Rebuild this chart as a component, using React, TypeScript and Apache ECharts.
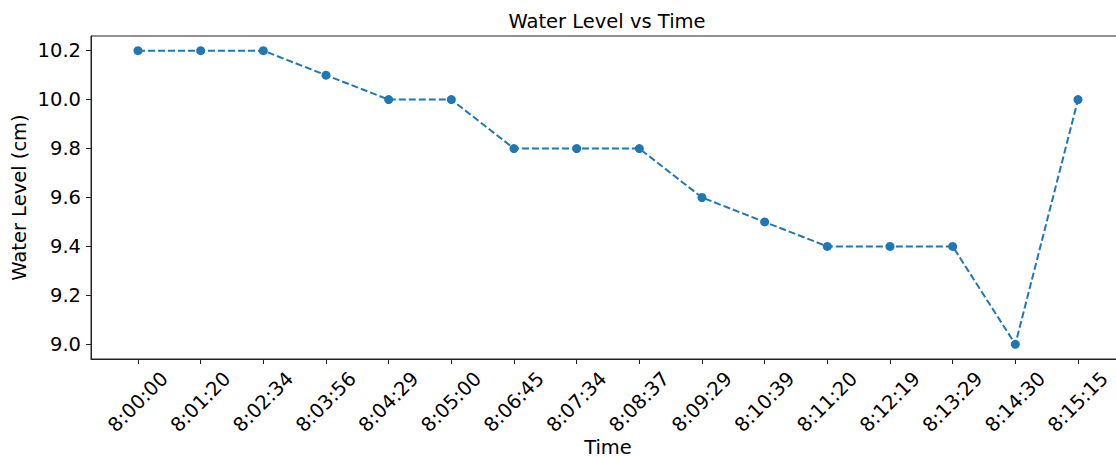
import React, { useEffect, useRef } from "react";
import * as echarts from "echarts";

const timeLabels = [
  "8:00:00", "8:01:20", "8:02:34", "8:03:56", "8:04:29", "8:05:00", "8:06:45", "8:07:34",
  "8:08:37", "8:09:29", "8:10:39", "8:11:20", "8:12:19", "8:13:29", "8:14:30", "8:15:15",
];
const waterLevels = [10.2, 10.2, 10.2, 10.1, 10.0, 10.0, 9.8, 9.8, 9.8, 9.6, 9.5, 9.4, 9.4, 9.4, 9.0, 10.0];
const yTicks = [9.0, 9.2, 9.4, 9.6, 9.8, 10.0, 10.2];

const FONT = "DejaVu Sans";
const BLUE = "#1f77b4";

export default function App() {
  const ref = useRef<HTMLDivElement>(null);
  useEffect(() => {
    if (!ref.current) return;
    const chart = echarts.init(ref.current, null, { renderer: "svg" });
    const n = waterLevels.length;
    const xPad = (n - 1) * 0.05;
    const yMinData = Math.min(...waterLevels);
    const yMaxData = Math.max(...waterLevels);
    const yPad = (yMaxData - yMinData) * 0.05;
    const xIdx = timeLabels.map((_, i) => i);
    chart.setOption({
      animation: false,
      textStyle: { fontFamily: FONT, color: "#000" },
      graphic: [
        {
          type: "text",
          x: 607,
          y: 21,
          style: {
            text: "Water Level vs Time",
            fontFamily: FONT,
            fontSize: 19.5,
            fill: "#000",
            textAlign: "center",
            textVerticalAlign: "middle",
          },
        },
      ],
      grid: {
        left: 91,
        top: 36,
        width: 1034,
        height: 323,
        outerBoundsMode: "none",
        containLabel: false,
        show: true,
        borderColor: "#222",
        borderWidth: 1,
        backgroundColor: "transparent",
      },
      xAxis: {
        type: "value",
        min: -xPad,
        max: n - 1 + xPad,
        name: "Time",
        nameLocation: "middle",
        nameGap: 78,
        nameMoveOverlap: false,
        nameTextStyle: { fontFamily: FONT, fontSize: 19.5, color: "#000" },
        axisLine: { show: true, onZero: false, lineStyle: { color: "#222", width: 1 } },
        axisTick: { show: true, length: 5, customValues: xIdx, lineStyle: { color: "#222" } },
        axisLabel: {
          customValues: xIdx,
          rotate: 45,
          align: "center",
          verticalAlign: "middle",
          margin: 43,
          fontFamily: FONT,
          fontSize: 19.5,
          color: "#000",
          formatter: (v: number) => timeLabels[Math.round(v)] ?? "",
        },
        splitLine: { show: false },
      },
      yAxis: {
        type: "value",
        min: yMinData - yPad,
        max: yMaxData + yPad,
        name: "Water Level (cm)",
        nameLocation: "middle",
        nameGap: 62,
        nameMoveOverlap: false,
        nameRotate: 90,
        nameTextStyle: { fontFamily: FONT, fontSize: 19.5, color: "#000" },
        axisLine: { show: true, onZero: false, lineStyle: { color: "#222", width: 1 } },
        axisTick: { show: true, length: 5, customValues: yTicks, lineStyle: { color: "#222" } },
        axisLabel: {
          customValues: yTicks,
          margin: 10,
          fontFamily: FONT,
          fontSize: 19.5,
          color: "#000",
          formatter: (v: number) => v.toFixed(1),
        },
        splitLine: { show: false },
      },
      series: [
        {
          type: "line",
          data: waterLevels.map((v, i) => [i, v]),
          symbol: "circle",
          symbolSize: 9,
          itemStyle: { color: BLUE },
          lineStyle: { color: BLUE, width: 2, type: [7, 3] },
          clip: false,
        },
      ],
    });
    return () => chart.dispose();
  }, []);
  return (
    <div
      ref={ref}
      style={{ position: "absolute", left: 0, top: 0, width: 1116, height: 457, background: "#fff" }}
    />
  );
}
